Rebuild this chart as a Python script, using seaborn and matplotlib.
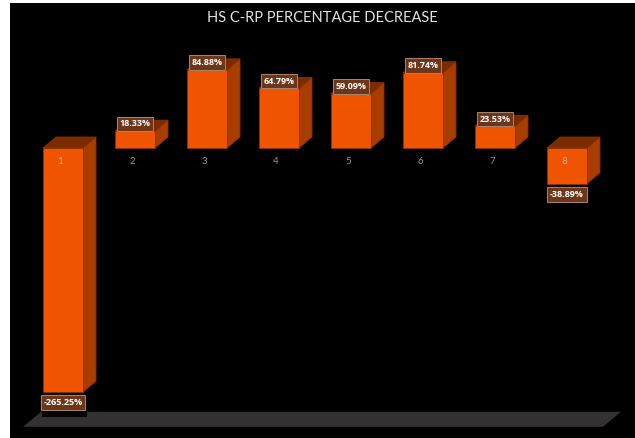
import matplotlib
matplotlib.use("Agg")
import matplotlib.pyplot as plt
import matplotlib.patheffects as pe
import seaborn as sns
import pandas as pd
from matplotlib.patches import Polygon, Rectangle
from matplotlib.transforms import ScaledTranslation

# ---- data ----
categories = ["1", "2", "3", "4", "5", "6", "7", "8"]
decrease_pct = [-265.25, 18.33, 84.88, 64.79, 59.09, 81.74, 23.53, -38.89]
chart_title = "HS C-RP PERCENTAGE DECREASE"

# ---- style ----
FRONT = "#EF5500"
SIDE = "#A83D00"
TOP = "#7A2C00"
EDGE = "#8E3000"
FLOOR = "#333131"
LABEL_FC = "#6E3618"
LABEL_EC = "#A98573"

sns.set_style("dark")
plt.rcParams["font.family"] = ["Lato", "DejaVu Sans"]

W, H, DPI = 635, 438, 100
fig = plt.figure(figsize=(W / DPI, H / DPI), dpi=DPI, facecolor="white")
# black chart area
fig.patches.append(Rectangle((10 / W, 0), 1 - 10 / W, 1 - 3 / H,
                             transform=fig.transFigure, facecolor="black",
                             edgecolor="none", zorder=-5))

ax = fig.add_axes([23 / W, (H - 426.8) / H, 580 / W, 370.8 / H])
ax.set_facecolor("none")

df = pd.DataFrame({"patient": categories, "pct": decrease_pct})
sns.barplot(data=df, x="patient", y="pct", color=FRONT, saturation=1,
            width=0.555, edgecolor=EDGE, linewidth=0.6, ax=ax, zorder=3)
ax.set_xlim(-0.556, 7.5)
ax.set_ylim(-303, 100)

# pixel -> data conversion for the 3D depth
fig.canvas.draw()
p0 = ax.transData.transform((0, 0))
p1 = ax.transData.transform((1, 1))
px_per_x = p1[0] - p0[0]
px_per_y = p1[1] - p0[1]
dx = 13 / px_per_x
dy = 11 / px_per_y

# floor plane at the axis minimum
x_lo, x_hi = ax.get_xlim()
y_lo = ax.get_ylim()[0]
fdx, fdy = 18 / px_per_x, 15 / px_per_y
ax.add_patch(Polygon([(x_lo, y_lo), (x_hi, y_lo), (x_hi + fdx, y_lo + fdy),
                      (x_lo + fdx, y_lo + fdy)], closed=True,
                     facecolor=FLOOR, edgecolor="none", zorder=0.5,
                     clip_on=False))

# side and top faces of each column
for bar in ax.patches[:len(decrease_pct)]:
    x0 = bar.get_x()
    x1 = x0 + bar.get_width()
    y0 = min(bar.get_y(), bar.get_y() + bar.get_height())
    y1 = max(bar.get_y(), bar.get_y() + bar.get_height())
    side = Polygon([(x1, y0), (x1, y1), (x1 + dx, y1 + dy), (x1 + dx, y0 + dy)],
                   closed=True, facecolor=SIDE, edgecolor=EDGE, lw=0.6,
                   zorder=2, clip_on=False)
    top = Polygon([(x0, y1), (x1, y1), (x1 + dx, y1 + dy), (x0 + dx, y1 + dy)],
                  closed=True, facecolor=TOP, edgecolor=EDGE, lw=0.6,
                  zorder=2, clip_on=False)
    ax.add_patch(side)
    ax.add_patch(top)

# category labels along the zero line
ax.spines["bottom"].set_position(("data", 0))
for s in ax.spines.values():
    s.set_visible(False)
ax.set_axisbelow(False)
ax.tick_params(axis="x", length=0, pad=6.5, labelsize=7, labelcolor="#CFCFCF")
ax.tick_params(axis="y", left=False, labelleft=False)
ax.set_xlabel("")
ax.set_ylabel("")
ax.grid(False)
shift = ScaledTranslation(-3 / DPI, 0, fig.dpi_scale_trans)
for lab in ax.get_xticklabels():
    lab.set_alpha(0.72)
    lab.set_transform(lab.get_transform() + shift)
    lab.set_zorder(6)
ax.xaxis.set_zorder(6)

# value labels
for i, v in enumerate(decrease_pct):
    above = v >= 0
    t = ax.annotate(f"{v:.2f}%", xy=(i, v), xytext=(0, 2.0 if above else -4.4),
                    textcoords="offset points", ha="center",
                    va="bottom" if above else "top", fontsize=6.5,
                    fontweight="bold", color="#FFFFFF", zorder=7,
                    family=["Open Sans", "DejaVu Sans"],
                    annotation_clip=False,
                    bbox=dict(boxstyle="square,pad=0.3", fc=LABEL_FC,
                              ec=LABEL_EC, lw=0.7))
    if not above:
        t.get_bbox_patch().set_path_effects(
            [pe.SimplePatchShadow(offset=(1, -5), shadow_rgbFace="black",
                                  alpha=0.9),
             pe.Normal()])

fig.text(322 / W, 1 - 18 / H, chart_title, ha="center", va="center",
         fontsize=10.5, color="#E4E4E4")

fig.savefig("out.png", dpi=DPI, facecolor=fig.get_facecolor())
